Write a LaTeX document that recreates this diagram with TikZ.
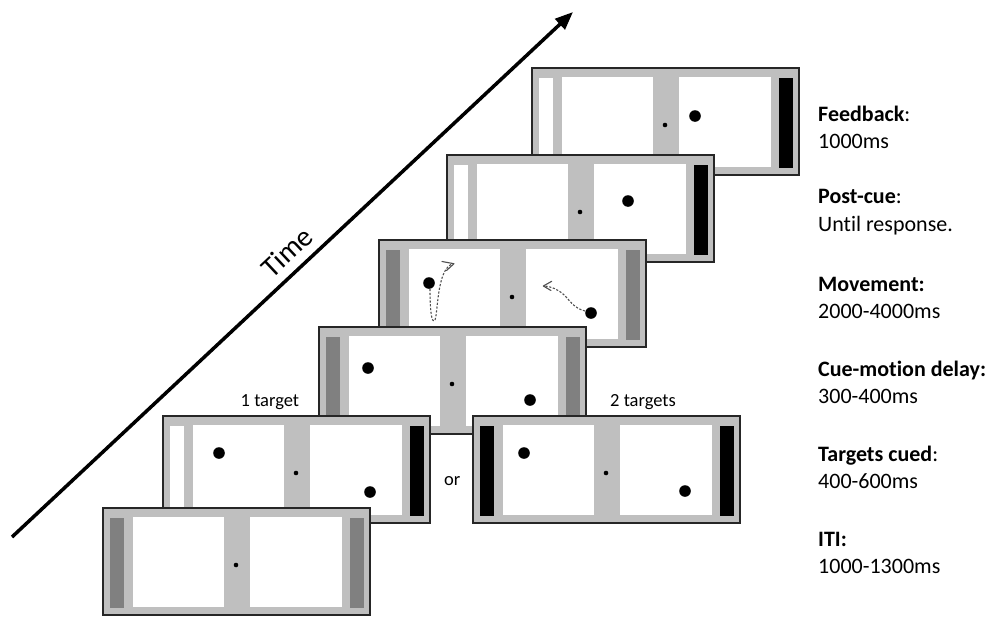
\documentclass[tikz,border=0pt]{standalone}
\usepackage{fontspec}
\setmainfont{Carlito}[Ligatures=NoCommon]
\usetikzlibrary{arrows.meta}

\definecolor{framegray}{HTML}{BFBFBF}
\definecolor{bargray}{HTML}{808080}
\definecolor{pathgray}{HTML}{505050}

% One display screen: #1,#2 = top-left corner, #3,#4 = colours of the
% left and right side bars, #5 = extra drawing inside the screen.
\newcommand\trialscreen[5]{%
  \begin{scope}[shift={(#1,#2)}]
    \filldraw[fill=framegray, draw=black!85, line width=1.3pt] (0,0) rectangle (267,107);
    \fill[white] (30,9) rectangle (121,99);
    \fill[white] (147,9) rectangle (239,99);
    \fill[#3] (7,10) rectangle (21,100);
    \fill[#4] (247,10) rectangle (261,100);
    \fill (133,57) circle (2.3pt);
    #5
  \end{scope}}
\newcommand\targetdot[2]{\fill (#1,#2) circle (5.8pt);}

\tikzset{
  lab/.style={anchor=base west, inner sep=0pt, font=\fontsize{22}{26}\selectfont},
  smalllab/.style={anchor=base west, inner sep=0pt, font=\fontsize{18.5}{22}\selectfont},
  trace/.style={pathgray, line width=1.1pt, dash pattern=on 2.2pt off 1.6pt},
  tracehead/.style={pathgray, line width=1.1pt, line cap=round, line join=round}
}

\begin{document}
\begin{tikzpicture}[x=1pt, y=-1pt]
\useasboundingbox (0,0) rectangle (987,616);

% time axis
\coordinate (tstart) at (12,537);
\coordinate (tend) at (573,12);
\draw[line width=3.5pt, -{Triangle[length=18pt,width=14pt]}] (tstart) -- (tend);
\node[rotate=43.2, font=\fontsize{29}{33}\selectfont, inner sep=0pt] (timelabel) at (287,252) {Time};

% screens, from the last one (back) to the first one (front)
\trialscreen{532}{68}{white}{black}{\targetdot{163}{48}}
\trialscreen{447}{155}{white}{black}{\targetdot{181}{46}}
\trialscreen{379}{240}{bargray}{bargray}{%
  \targetdot{50}{43}\targetdot{212}{73}
  \draw[trace] (51,49) .. controls (51,74) and (53,84) .. (56,80)
                       .. controls (59,72) and (58,32) .. (72,24.5);
  \draw[tracehead] (63,21.5) -- (75,23.7) -- (67.5,30.5);
  \draw[trace] (206,71) .. controls (194,68) and (190,59) .. (184,54)
                        .. controls (178,49) and (173,47) .. (166,46);
  \draw[tracehead] (172.7,41.3) -- (164.3,46) -- (172,50.5);}
\trialscreen{319}{327}{bargray}{bargray}{\targetdot{49}{41}\targetdot{211}{73}}
\trialscreen{473}{416}{black}{black}{\targetdot{51}{37}\targetdot{212}{75}}
\trialscreen{163}{416}{white}{black}{\targetdot{56}{37}\targetdot{207}{76}}
\trialscreen{103}{508}{bargray}{bargray}{}

% condition labels
\node[smalllab] (onetarget) at (240.5,406) {1 target};
\node[smalllab] (twotargets) at (610,406) {2 targets};
\node[smalllab] (ortext) at (444,485) {or};

% phase labels
\node[lab] (fbhead)  at (818,121.5) {\textbf{Feedback}:};
\node[lab] (fbtime)  at (818,148)   {1000ms};
\node[lab] (pchead)  at (818,203)   {\textbf{Post-cue}:};
\node[lab] (pctime)  at (818,231.5) {Until response.};
\node[lab] (mvhead)  at (818,291.5) {\textbf{Movement:}};
\node[lab] (mvtime)  at (818,318)   {2000-4000ms};
\node[lab] (cmhead)  at (818,376.5) {\textbf{Cue-motion delay:}};
\node[lab] (cmtime)  at (818,403)   {300-400ms};
\node[lab] (tchead)  at (818,461.5) {\textbf{Targets cued}:};
\node[lab] (tctime)  at (818,488)   {400-600ms};
\node[lab] (itihead) at (818,546.5) {\textbf{ITI:}};
\node[lab] (ititime) at (818,573)   {1000-1300ms};
\end{tikzpicture}
\end{document}
